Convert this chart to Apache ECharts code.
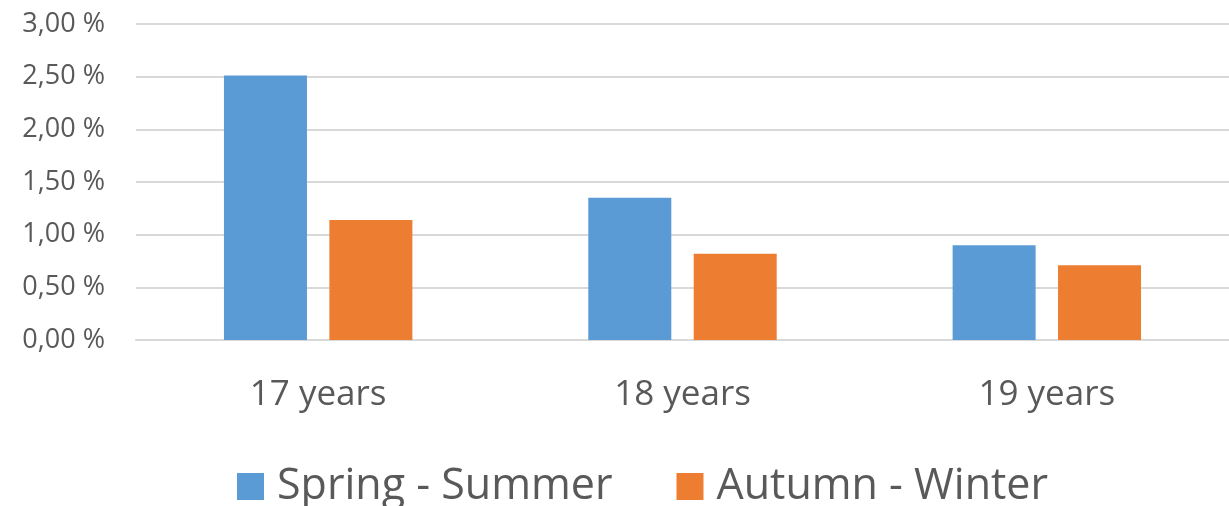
<!DOCTYPE html>
<html>
<head>
<meta charset="utf-8">
<script src="https://cdn.jsdelivr.net/npm/echarts@6/dist/echarts.min.js"></script>
<style>
  html, body { margin: 0; padding: 0; background: #fff; }
  #chart { width: 1229px; height: 506px; }
</style>
</head>
<body>
<div id="chart"></div>
<script>
const categories = ['17 years', '18 years', '19 years'];
const springSummer = [2.51, 1.35, 0.90];
const autumnWinter = [1.14, 0.82, 0.71];

const chart = echarts.init(document.getElementById('chart'));

// 3,00 % style (comma decimal)
const fmt = v => v.toFixed(2).replace('.', ',') + ' %';
const font = '"Open Sans", sans-serif';

chart.setOption({
  animation: false,
  textStyle: { fontFamily: font },
  grid: { left: 136, right: -4, top: 24, bottom: 166, containLabel: false },
  legend: {
    top: 460,
    left: 232,
    itemWidth: 27,
    itemHeight: 27,
    itemGap: 64,
    icon: 'rect',
    textStyle: { fontSize: 43, color: '#595959', fontFamily: font, padding: [0, 0, 0, 8] },
    data: ['Spring - Summer', 'Autumn - Winter']
  },
  xAxis: {
    type: 'category',
    data: categories,
    axisLine: { lineStyle: { color: '#d9d9d9', width: 2 } },
    axisTick: { show: false },
    axisLabel: { fontSize: 35, color: '#595959', margin: 38 }
  },
  yAxis: {
    type: 'value',
    min: 0,
    max: 3,
    interval: 0.5,
    axisLine: { show: false },
    axisTick: { show: false },
    splitLine: { lineStyle: { color: '#d9d9d9', width: 2 } },
    axisLabel: { fontSize: 27, color: '#595959', margin: 31, formatter: fmt }
  },
  series: [
    {
      name: 'Spring - Summer',
      type: 'bar',
      data: springSummer,
      barWidth: 83,
      barGap: '27%',
      itemStyle: { color: '#5b9bd5' }
    },
    {
      name: 'Autumn - Winter',
      type: 'bar',
      data: autumnWinter,
      barWidth: 83,
      barGap: '27%',
      itemStyle: { color: '#ed7d31' }
    }
  ]
});
</script>
</body>
</html>
